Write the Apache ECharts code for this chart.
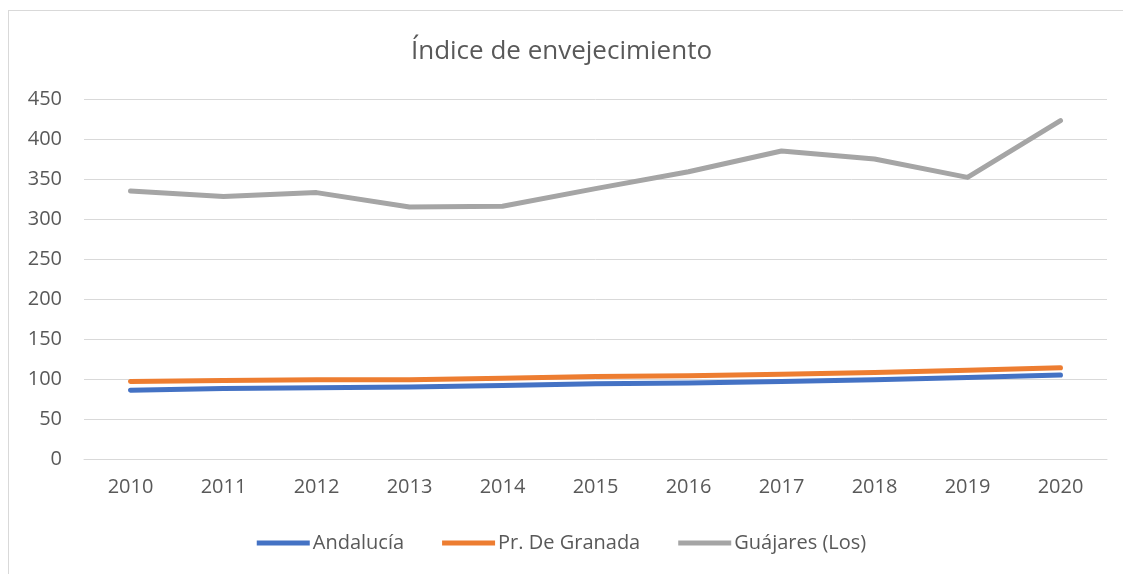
<!DOCTYPE html>
<html>
<head>
<meta charset="utf-8">
<script src="https://cdn.jsdelivr.net/npm/echarts@6/dist/echarts.min.js"></script>
<style>
  html, body { margin: 0; padding: 0; background: #fff; }
  #frame { position: absolute; left: 8px; top: 10px; width: 1115px; height: 564px;
           border-left: 1px solid #d9d9d9; border-top: 1px solid #d9d9d9; }
  #chart { position: absolute; left: 0; top: 0; width: 1123px; height: 574px; }
</style>
</head>
<body>
<div id="frame"></div>
<div id="chart"></div>
<script>
const years = ["2010", "2011", "2012", "2013", "2014", "2015", "2016", "2017", "2018", "2019", "2020"];
const andalucia = [86, 88, 89, 90, 92, 94, 95, 97, 99, 102, 105];
const granada = [97, 98, 99, 99, 101, 103, 104, 106, 108, 111, 114];
const guajares = [335, 328, 333, 315, 316, 338, 359, 385, 375, 352, 423];

const font = "'Open Sans', sans-serif";

function line(name, data, color) {
  return {
    name: name,
    type: "line",
    data: data,
    symbol: "none",
    lineStyle: { width: 5, color: color, cap: "round", join: "round" },
    itemStyle: { color: color },
  };
}

const option = {
  animation: false,
  textStyle: { fontFamily: font },
  title: {
    text: "Índice de envejecimiento",
    left: "center",
    top: 34,
    textStyle: { fontFamily: font, fontSize: 26, fontWeight: "normal", color: "#595959" },
  },
  legend: {
    bottom: 16,
    left: "center",
    icon: "rect",
    itemWidth: 53,
    itemHeight: 5,
    itemGap: 38,
    textStyle: { fontFamily: font, fontSize: 20, color: "#595959", padding: [0, 0, 0, -2] },
    data: ["Andalucía", "Pr. De Granada", "Guájares (Los)"],
  },
  grid: { left: 84, right: 16, top: 99, bottom: 115, containLabel: false },
  xAxis: {
    type: "category",
    data: years,
    boundaryGap: true,
    axisLine: { lineStyle: { color: "#d9d9d9", width: 1 } },
    axisTick: { show: false },
    axisLabel: { color: "#595959", fontSize: 20, margin: 18, fontFamily: font },
  },
  yAxis: {
    type: "value",
    min: 0,
    max: 450,
    interval: 50,
    axisLine: { show: false },
    axisTick: { show: false },
    splitLine: { lineStyle: { color: "#d9d9d9", width: 1 } },
    axisLabel: { color: "#595959", fontSize: 20, margin: 22, fontFamily: font },
  },
  series: [
    line("Andalucía", andalucia, "#4472C4"),
    line("Pr. De Granada", granada, "#ED7D31"),
    line("Guájares (Los)", guajares, "#A5A5A5"),
  ],
};

const chart = echarts.init(document.getElementById("chart"));
chart.setOption(option);
</script>
</body>
</html>
